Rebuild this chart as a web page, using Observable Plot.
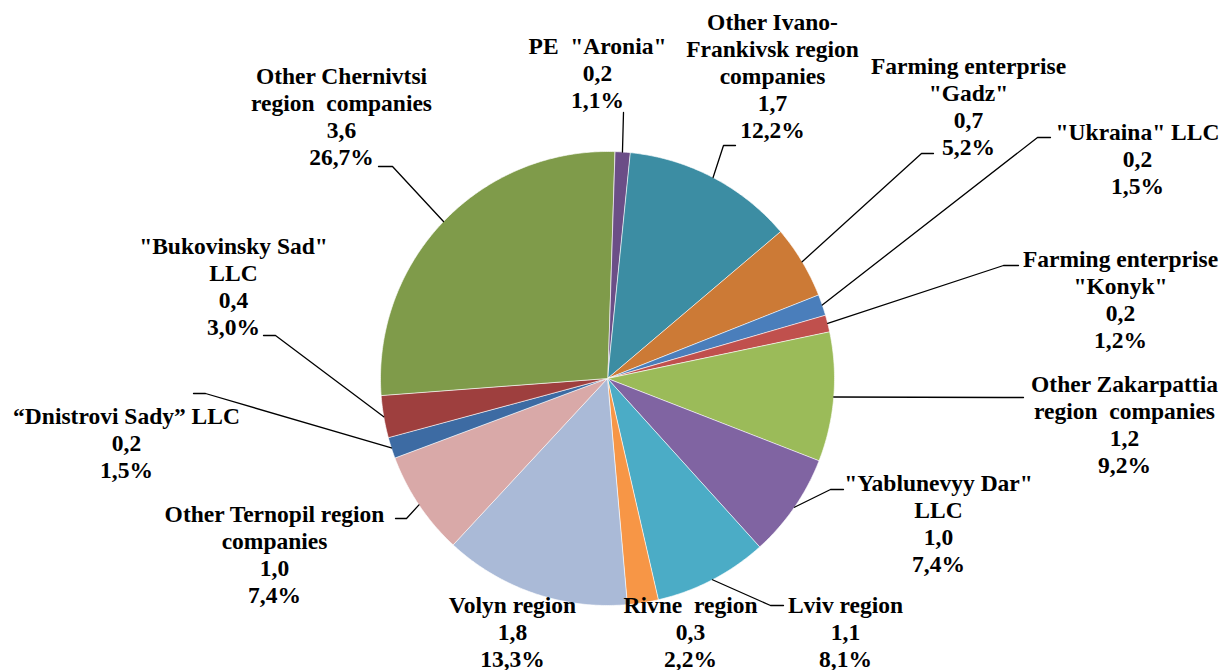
<!DOCTYPE html>
<html><head><meta charset="utf-8">
<script src="https://cdn.jsdelivr.net/npm/d3@7"></script>
<script src="https://cdn.jsdelivr.net/npm/@observablehq/plot@0.6"></script>
<style>
html,body{margin:0;padding:0;background:#fff;overflow:hidden}
#chart svg text{font-family:"Liberation Serif","Times New Roman","DejaVu Serif",serif !important;font-weight:bold}
</style>
</head><body><div id="chart"></div>
<script>
// ---- data ----
const names = [
  "PE \"Aronia\"", "Other Ivano-Frankivsk region companies", "Farming enterprise \"Gadz\"",
  "\"Ukraina\" LLC", "Farming enterprise \"Konyk\"", "Other Zakarpattia region companies",
  "\"Yablunevyy Dar\" LLC", "Lviv region", "Rivne region", "Volyn region",
  "Other Ternopil region companies", "“Dnistrovi Sady” LLC", "\"Bukovinsky Sad\" LLC",
  "Other Chernivtsi region companies"
];
const values = [0.2, 1.7, 0.7, 0.2, 0.2, 1.2, 1.0, 1.1, 0.3, 1.8, 1.0, 0.2, 0.4, 3.6];
const shares = [1.1, 12.2, 5.2, 1.5, 1.2, 9.2, 7.4, 8.1, 2.2, 13.3, 7.4, 1.5, 3.0, 26.7];
const colors = ["#6B4E87", "#3C8DA3", "#CC7A36", "#4A7EBB", "#C0504D", "#9BBB59", "#8064A2",
  "#4BACC6", "#F79646", "#AABAD7", "#D9A9A8", "#3D6BA3", "#9E3F3E", "#7F9B4A"];
const labelLines = [
  ["PE \u00a0\"Aronia\""], ["Other Ivano-", "Frankivsk region", "companies"], ["Farming enterprise", "\"Gadz\""],
  ["\"Ukraina\" LLC"], ["Farming enterprise", "\"Konyk\""], ["Other Zakarpattia", "region \u00a0companies"],
  ["\"Yablunevyy Dar\"", "LLC"], ["Lviv region"], ["Rivne \u00a0region"], ["Volyn region"],
  ["Other Ternopil region", "companies"], ["“Dnistrovi Sady” LLC"], ["\"Bukovinsky Sad\"", "LLC"],
  ["Other Chernivtsi", "region \u00a0companies"]
];

// ---- layout (pixels) ----
const W = 1232, H = 670;
const cx = 607, cy = 378, R = 227, startDeg = 1.8;
const labelPos = [[597,72],[772,75],[968,105],[1137,158],[1120,298],[1124,423],[938,522],
  [845,631],[690,631],[512,631],[274,553],[126,442],[233,285],[341,115]];
// leader: [end at label, elbow] or null
const leaderEnds = [[[623,112],[623,112]], [[735,145],[723,145]], [[933,153],[921,153]],
  [[1050,137],[1037,137]], [[1018,265],[1003,265]], [[1023,397],[1003,397]],
  [[843,489],[830,489]], [[783,605],[770,605]], null, null,
  [[395,518],[406,518]], [[193,393],[205,393]], [[263,335],[275,335]], [[378,166],[392,166]]];

const fmt = v => v.toFixed(1).replace(".", ",");
const rows = names.map((name, i) => ({name, value: values[i], share: shares[i], i}));
const a0 = startDeg * Math.PI / 180;
const arcs = d3.pie().sort(null).value(d => d.share).startAngle(a0).endAngle(a0 + 2 * Math.PI)(rows);

const slicePts = arcs.flatMap(p => {
  const pts = [{name: p.data.name, x: cx, y: cy}];
  const n = Math.max(2, Math.ceil((p.endAngle - p.startAngle) / (Math.PI / 360)));
  for (let k = 0; k <= n; k++) {
    const a = p.startAngle + (p.endAngle - p.startAngle) * k / n;
    pts.push({name: p.data.name, x: cx + R * Math.sin(a), y: cy - R * Math.cos(a)});
  }
  return pts;
});

const leaderPts = arcs.flatMap((p, i) => {
  const le = leaderEnds[i];
  if (!le) return [];
  const m = (p.startAngle + p.endAngle) / 2;
  return [
    {name: p.data.name, x: cx + R * Math.sin(m), y: cy - R * Math.cos(m)},
    {name: p.data.name, x: le[1][0], y: le[1][1]},
    {name: p.data.name, x: le[0][0], y: le[0][1]}
  ];
});

const labels = rows.map((d, i) => ({
  x: labelPos[i][0], y: labelPos[i][1],
  text: [...labelLines[i], fmt(d.value), fmt(d.share) + "%"].join("\n")
}));

const chart = Plot.plot({
  width: W, height: H, margin: 0,
  style: {fontFamily: "'Liberation Serif', 'Times New Roman', serif"},
  x: {domain: [0, W], range: [0, W], axis: null},
  y: {domain: [0, H], range: [0, H], axis: null},
  color: {type: "ordinal", domain: names, range: colors},
  marks: [
    Plot.line(slicePts, {x: "x", y: "y", z: "name", fill: "name", stroke: "white", strokeWidth: 0.8, strokeOpacity: 0.8, curve: "linear-closed"}),
    Plot.line(leaderPts, {x: "x", y: "y", z: "name", stroke: "black", strokeWidth: 1.3}),
    Plot.text(labels, {x: "x", y: "y", text: "text", fontSize: 23.5, fontWeight: "bold",
      fontFamily: "Liberation Serif", lineHeight: 1.15,
      textAnchor: "middle", lineAnchor: "middle", fill: "black"})
  ]
});
document.getElementById("chart").appendChild(chart);
</script>
</body></html>
